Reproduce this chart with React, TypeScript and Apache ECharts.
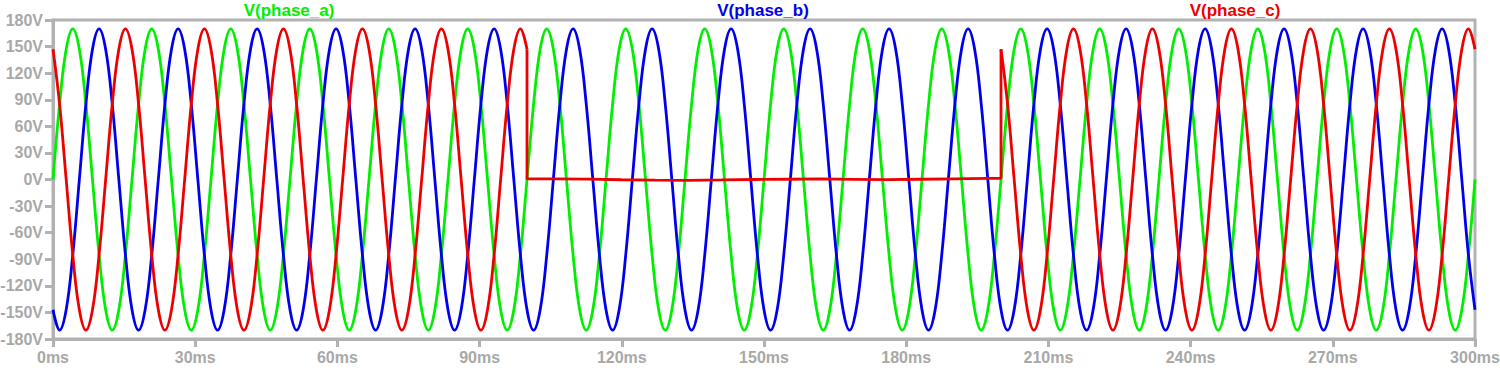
import React, { useEffect, useRef } from "react";
import * as echarts from "echarts";

// Sample times (ms), one row per 60 Hz cycle (30° steps)
const timeMs = [
  0, 1.39, 2.78, 4.17, 5.56, 6.94, 8.33, 9.72, 11.11, 12.5, 13.89, 15.28,
  16.67, 18.06, 19.44, 20.83, 22.22, 23.61, 25, 26.39, 27.78, 29.17, 30.56, 31.94,
  33.33, 34.72, 36.11, 37.5, 38.89, 40.28, 41.67, 43.06, 44.44, 45.83, 47.22, 48.61,
  50, 51.39, 52.78, 54.17, 55.56, 56.94, 58.33, 59.72, 61.11, 62.5, 63.89, 65.28,
  66.67, 68.06, 69.44, 70.83, 72.22, 73.61, 75, 76.39, 77.78, 79.17, 80.56, 81.94,
  83.33, 84.72, 86.11, 87.5, 88.89, 90.28, 91.67, 93.06, 94.44, 95.83, 97.22, 98.61,
  100, 101.39, 102.78, 104.17, 105.56, 106.94, 108.33, 109.72, 111.11, 112.5, 113.89, 115.28,
  116.67, 118.06, 119.44, 120.83, 122.22, 123.61, 125, 126.39, 127.78, 129.17, 130.56, 131.94,
  133.33, 134.72, 136.11, 137.5, 138.89, 140.28, 141.67, 143.06, 144.44, 145.83, 147.22, 148.61,
  150, 151.39, 152.78, 154.17, 155.56, 156.94, 158.33, 159.72, 161.11, 162.5, 163.89, 165.28,
  166.67, 168.06, 169.44, 170.83, 172.22, 173.61, 175, 176.39, 177.78, 179.17, 180.56, 181.94,
  183.33, 184.72, 186.11, 187.5, 188.89, 190.28, 191.67, 193.06, 194.44, 195.83, 197.22, 198.61,
  200, 201.39, 202.78, 204.17, 205.56, 206.94, 208.33, 209.72, 211.11, 212.5, 213.89, 215.28,
  216.67, 218.06, 219.44, 220.83, 222.22, 223.61, 225, 226.39, 227.78, 229.17, 230.56, 231.94,
  233.33, 234.72, 236.11, 237.5, 238.89, 240.28, 241.67, 243.06, 244.44, 245.83, 247.22, 248.61,
  250, 251.39, 252.78, 254.17, 255.56, 256.94, 258.33, 259.72, 261.11, 262.5, 263.89, 265.28,
  266.67, 268.06, 269.44, 270.83, 272.22, 273.61, 275, 276.39, 277.78, 279.17, 280.56, 281.94,
  283.33, 284.72, 286.11, 287.5, 288.89, 290.28, 291.67, 293.06, 294.44, 295.83, 297.22, 298.61,
  300,
];

const phaseA = [
  0, 85, 147, 170, 147, 85, 0, -85, -147, -170, -147, -85,
  0, 85, 147, 170, 147, 85, 0, -85, -147, -170, -147, -85,
  0, 85, 147, 170, 147, 85, 0, -85, -147, -170, -147, -85,
  0, 85, 147, 170, 147, 85, 0, -85, -147, -170, -147, -85,
  0, 85, 147, 170, 147, 85, 0, -85, -147, -170, -147, -85,
  0, 85, 147, 170, 147, 85, 0, -85, -147, -170, -147, -85,
  0, 85, 147, 170, 147, 85, 0, -85, -147, -170, -147, -85,
  0, 85, 147, 170, 147, 85, 0, -85, -147, -170, -147, -85,
  0, 85, 147, 170, 147, 85, 0, -85, -147, -170, -147, -85,
  0, 85, 147, 170, 147, 85, 0, -85, -147, -170, -147, -85,
  0, 85, 147, 170, 147, 85, 0, -85, -147, -170, -147, -85,
  0, 85, 147, 170, 147, 85, 0, -85, -147, -170, -147, -85,
  0, 85, 147, 170, 147, 85, 0, -85, -147, -170, -147, -85,
  0, 85, 147, 170, 147, 85, 0, -85, -147, -170, -147, -85,
  0, 85, 147, 170, 147, 85, 0, -85, -147, -170, -147, -85,
  0, 85, 147, 170, 147, 85, 0, -85, -147, -170, -147, -85,
  0, 85, 147, 170, 147, 85, 0, -85, -147, -170, -147, -85,
  0, 85, 147, 170, 147, 85, 0, -85, -147, -170, -147, -85,
  0,
];

const phaseB = [
  -147, -170, -147, -85, 0, 85, 147, 170, 147, 85, 0, -85,
  -147, -170, -147, -85, 0, 85, 147, 170, 147, 85, 0, -85,
  -147, -170, -147, -85, 0, 85, 147, 170, 147, 85, 0, -85,
  -147, -170, -147, -85, 0, 85, 147, 170, 147, 85, 0, -85,
  -147, -170, -147, -85, 0, 85, 147, 170, 147, 85, 0, -85,
  -147, -170, -147, -85, 0, 85, 147, 170, 147, 85, 0, -85,
  -147, -170, -147, -85, 0, 85, 147, 170, 147, 85, 0, -85,
  -147, -170, -147, -85, 0, 85, 147, 170, 147, 85, 0, -85,
  -147, -170, -147, -85, 0, 85, 147, 170, 147, 85, 0, -85,
  -147, -170, -147, -85, 0, 85, 147, 170, 147, 85, 0, -85,
  -147, -170, -147, -85, 0, 85, 147, 170, 147, 85, 0, -85,
  -147, -170, -147, -85, 0, 85, 147, 170, 147, 85, 0, -85,
  -147, -170, -147, -85, 0, 85, 147, 170, 147, 85, 0, -85,
  -147, -170, -147, -85, 0, 85, 147, 170, 147, 85, 0, -85,
  -147, -170, -147, -85, 0, 85, 147, 170, 147, 85, 0, -85,
  -147, -170, -147, -85, 0, 85, 147, 170, 147, 85, 0, -85,
  -147, -170, -147, -85, 0, 85, 147, 170, 147, 85, 0, -85,
  -147, -170, -147, -85, 0, 85, 147, 170, 147, 85, 0, -85,
  -147,
];

// phase_c is switched off between 100 ms and 200 ms (null = no sample on the sine path)
const phaseC = [
  147, 85, 0, -85, -147, -170, -147, -85, 0, 85, 147, 170,
  147, 85, 0, -85, -147, -170, -147, -85, 0, 85, 147, 170,
  147, 85, 0, -85, -147, -170, -147, -85, 0, 85, 147, 170,
  147, 85, 0, -85, -147, -170, -147, -85, 0, 85, 147, 170,
  147, 85, 0, -85, -147, -170, -147, -85, 0, 85, 147, 170,
  147, 85, 0, -85, -147, -170, -147, -85, 0, 85, 147, 170,
  147, null, null, null, null, null, null, null, null, null, null, null,
  null, null, null, null, null, null, null, null, null, null, null, null,
  null, null, null, null, null, null, null, null, null, null, null, null,
  null, null, null, null, null, null, null, null, null, null, null, null,
  null, null, null, null, null, null, null, null, null, null, null, null,
  null, null, null, null, null, null, null, null, null, null, null, null,
  147, 85, 0, -85, -147, -170, -147, -85, 0, 85, 147, 170,
  147, 85, 0, -85, -147, -170, -147, -85, 0, 85, 147, 170,
  147, 85, 0, -85, -147, -170, -147, -85, 0, 85, 147, 170,
  147, 85, 0, -85, -147, -170, -147, -85, 0, 85, 147, 170,
  147, 85, 0, -85, -147, -170, -147, -85, 0, 85, 147, 170,
  147, 85, 0, -85, -147, -170, -147, -85, 0, 85, 147, 170,
  147,
];

// phase_c while switched off (vertical edges at 100 ms and 200 ms)
const faultTimeMs = [100, 100, 106, 113, 120, 127, 134, 141, 148, 155, 162, 169, 176, 183, 190, 197, 200, 200];
const faultPhaseC = [147, 0.6, 0.8, 0.4, -0.3, -0.8, -0.9, -0.5, 0, 0.3, 0.6, 0.2, -0.2, 0.3, 0.8, 1.2, 1.4, 147];

const seriesNames = ["V(phase_a)", "V(phase_b)", "V(phase_c)"];
const seriesColors = ["#00ee00", "#0000ee", "#ee0000"];
const titleCenters = [289, 763, 1235];

export default function App() {
  const ref = useRef<HTMLDivElement>(null);

  useEffect(() => {
    if (!ref.current) return;
    const chart = echarts.init(ref.current, null, { renderer: "svg" });
    const gray = "#b2b2b2";
    const labelGray = "#a8a8a8";
    const font = "Liberation Sans, Arial, sans-serif";
    const lw = 2.8;

    const pairs = (ys: (number | null)[], xs: number[]) => xs.map((t, i) => [t, ys[i]]);

    const lineBase = {
      type: "line",
      showSymbol: false,
      symbol: "none",
      smooth: 0.4,
      emphasis: { disabled: true },
      z: 2,
    };

    chart.setOption({
      animation: false,
      backgroundColor: "#ffffff",
      grid: {
        left: 53,
        right: 25,
        top: 20,
        bottom: 31,
        show: true,
        borderColor: gray,
        borderWidth: 3,
        backgroundColor: "transparent",
        outerBoundsMode: "none",
        containLabel: false,
      },
      xAxis: {
        type: "value",
        min: 0,
        max: 300,
        interval: 30,
        splitLine: { show: false },
        axisLine: { show: true, onZero: false, lineStyle: { color: gray, width: 3 } },
        axisTick: { show: true, length: 8, lineStyle: { color: gray, width: 3 } },
        axisLabel: {
          formatter: "{value}ms",
          color: labelGray,
          fontFamily: font,
          fontWeight: "bold",
          fontSize: 16,
          margin: 10,
          showMaxLabel: true,
          showMinLabel: true,
        },
      },
      yAxis: {
        type: "value",
        min: -180,
        max: 180,
        interval: 30,
        splitLine: { show: false },
        axisLine: { show: true, onZero: false, lineStyle: { color: gray, width: 3 } },
        axisTick: { show: true, length: 8, lineStyle: { color: gray, width: 3 } },
        axisLabel: {
          formatter: "{value}V",
          color: labelGray,
          fontFamily: font,
          fontWeight: "bold",
          fontSize: 16,
          margin: 10,
        },
      },
      graphic: seriesNames.map((name, i) => ({
        type: "text",
        x: titleCenters[i],
        y: 10,
        style: {
          text: name,
          fill: seriesColors[i],
          font: `bold 17px ${font}`,
          textAlign: "center",
          textVerticalAlign: "middle",
        },
      })),
      series: [
        { ...lineBase, name: seriesNames[0], color: seriesColors[0], lineStyle: { width: lw, color: seriesColors[0] }, data: pairs(phaseA, timeMs) },
        { ...lineBase, name: seriesNames[1], color: seriesColors[1], lineStyle: { width: lw, color: seriesColors[1] }, data: pairs(phaseB, timeMs) },
        { ...lineBase, name: seriesNames[2], color: seriesColors[2], lineStyle: { width: lw, color: seriesColors[2] }, connectNulls: false, data: pairs(phaseC, timeMs) },
        { ...lineBase, name: seriesNames[2] + " off", smooth: false, color: seriesColors[2], lineStyle: { width: lw, color: seriesColors[2] }, data: pairs(faultPhaseC, faultTimeMs) },
      ],
    });

    return () => chart.dispose();
  }, []);

  return (
    <div
      ref={ref}
      style={{ position: "fixed", left: 0, top: 0, width: 1500, height: 370 }}
    />
  );
}
